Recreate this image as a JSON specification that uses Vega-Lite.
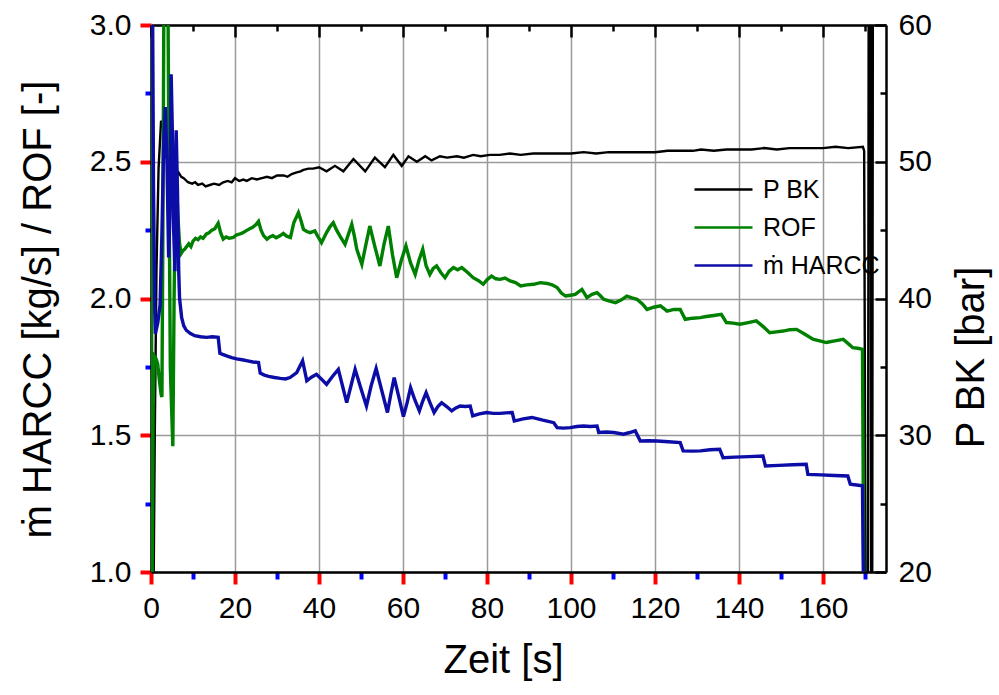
{
  "$schema": "https://vega.github.io/schema/vega-lite/v6.json",
  "width": 735,
  "height": 547,
  "autosize": {"type": "none"},
  "padding": {"left": 151, "top": 25, "right": 113, "bottom": 123},
  "background": "white",
  "config": {
    "view": {"stroke": null},
    "font": "Liberation Sans"
  },
  "data": {
    "values": [
      {"t":0,"s":"P BK","v":10},{"t":0.5,"s":"P BK","v":14},{"t":0.9,"s":"P BK","v":30},{"t":1.3,"s":"P BK","v":42},{"t":1.8,"s":"P BK","v":49.5},{"t":2.4,"s":"P BK","v":53.0},{"t":2.8,"s":"P BK","v":52.7},{"t":3.2,"s":"P BK","v":52.5},{"t":3.6,"s":"P BK","v":52.0},{"t":4.0,"s":"P BK","v":51.5},{"t":4.4,"s":"P BK","v":52.1},{"t":4.8,"s":"P BK","v":52.0},{"t":5.2,"s":"P BK","v":51.8},{"t":5.6,"s":"P BK","v":48.6},{"t":6.0,"s":"P BK","v":48.9},{"t":6.6,"s":"P BK","v":49.2},{"t":7.2,"s":"P BK","v":48.9},{"t":7.8,"s":"P BK","v":48.8},{"t":8.8,"s":"P BK","v":48.5},{"t":9.8,"s":"P BK","v":48.4},{"t":10.5,"s":"P BK","v":48.5},{"t":11.2,"s":"P BK","v":48.3},{"t":12.2,"s":"P BK","v":48.4},{"t":13.0,"s":"P BK","v":48.2},{"t":14.0,"s":"P BK","v":48.3},{"t":15.0,"s":"P BK","v":48.4},{"t":16.2,"s":"P BK","v":48.3},{"t":17.2,"s":"P BK","v":48.5},{"t":18.3,"s":"P BK","v":48.6},{"t":19.2,"s":"P BK","v":48.5},{"t":20.0,"s":"P BK","v":48.8},{"t":21.0,"s":"P BK","v":48.6},{"t":22.0,"s":"P BK","v":48.7},{"t":22.8,"s":"P BK","v":48.6},{"t":24.0,"s":"P BK","v":48.8},{"t":25.2,"s":"P BK","v":48.7},{"t":26.4,"s":"P BK","v":48.8},{"t":27.6,"s":"P BK","v":48.9},{"t":28.8,"s":"P BK","v":48.8},{"t":30.0,"s":"P BK","v":49.0},{"t":31.6,"s":"P BK","v":49.0},{"t":32.5,"s":"P BK","v":48.9},{"t":33.5,"s":"P BK","v":49.1},{"t":34.5,"s":"P BK","v":49.2},{"t":35.6,"s":"P BK","v":49.3},{"t":36.3,"s":"P BK","v":49.4},{"t":37.5,"s":"P BK","v":49.5},{"t":38.6,"s":"P BK","v":49.5},{"t":40.0,"s":"P BK","v":49.6},{"t":41.8,"s":"P BK","v":49.3},{"t":43.8,"s":"P BK","v":49.7},{"t":45.8,"s":"P BK","v":49.3},{"t":48.2,"s":"P BK","v":50.2},{"t":51.0,"s":"P BK","v":49.3},{"t":53.3,"s":"P BK","v":50.3},{"t":55.7,"s":"P BK","v":49.6},{"t":57.7,"s":"P BK","v":50.5},{"t":59.7,"s":"P BK","v":49.7},{"t":61.3,"s":"P BK","v":50.4},{"t":63.3,"s":"P BK","v":50.0},{"t":65.3,"s":"P BK","v":50.4},{"t":66.8,"s":"P BK","v":50.1},{"t":68.8,"s":"P BK","v":50.4},{"t":70.5,"s":"P BK","v":50.3},{"t":72.8,"s":"P BK","v":50.4},{"t":74.5,"s":"P BK","v":50.3},{"t":76.7,"s":"P BK","v":50.5},{"t":78.5,"s":"P BK","v":50.4},{"t":80.7,"s":"P BK","v":50.5},{"t":83.0,"s":"P BK","v":50.5},{"t":85.5,"s":"P BK","v":50.6},{"t":88,"s":"P BK","v":50.5},{"t":91,"s":"P BK","v":50.6},{"t":94,"s":"P BK","v":50.6},{"t":97,"s":"P BK","v":50.6},{"t":100,"s":"P BK","v":50.6},{"t":103,"s":"P BK","v":50.7},{"t":106,"s":"P BK","v":50.6},{"t":109,"s":"P BK","v":50.7},{"t":112,"s":"P BK","v":50.7},{"t":115,"s":"P BK","v":50.7},{"t":118,"s":"P BK","v":50.7},{"t":120,"s":"P BK","v":50.7},{"t":123,"s":"P BK","v":50.8},{"t":126,"s":"P BK","v":50.8},{"t":129,"s":"P BK","v":50.8},{"t":131,"s":"P BK","v":50.9},{"t":134,"s":"P BK","v":50.8},{"t":137,"s":"P BK","v":50.9},{"t":140,"s":"P BK","v":50.9},{"t":143,"s":"P BK","v":50.9},{"t":146,"s":"P BK","v":51.0},{"t":149,"s":"P BK","v":50.9},{"t":152,"s":"P BK","v":51.0},{"t":155,"s":"P BK","v":51.0},{"t":158,"s":"P BK","v":51.0},{"t":160,"s":"P BK","v":51.0},{"t":163,"s":"P BK","v":51.1},{"t":166,"s":"P BK","v":51.0},{"t":169.5,"s":"P BK","v":51.1},{"t":169.8,"s":"P BK","v":50.8},{"t":170.2,"s":"P BK","v":12},{"t":170.7,"s":"P BK","v":12},{"t":170.9,"s":"P BK","v":70},{"t":171.3,"s":"P BK","v":70},{"t":171.5,"s":"P BK","v":12},{"t":171.7,"s":"P BK","v":12},{"t":171.9,"s":"P BK","v":70},

      {"t":0,"s":"ROF","v":3.3},{"t":0.25,"s":"ROF","v":0.9},{"t":0.5,"s":"ROF","v":1.6},{"t":0.8,"s":"ROF","v":1.79},{"t":1.2,"s":"ROF","v":1.78},{"t":1.6,"s":"ROF","v":1.76},{"t":2.0,"s":"ROF","v":1.70},{"t":2.4,"s":"ROF","v":1.65},{"t":2.6,"s":"ROF","v":1.64},{"t":2.8,"s":"ROF","v":2.17},{"t":3.1,"s":"ROF","v":3.2},{"t":4.0,"s":"ROF","v":3.2},{"t":4.3,"s":"ROF","v":2.4},{"t":4.6,"s":"ROF","v":1.75},{"t":4.9,"s":"ROF","v":1.6},{"t":5.2,"s":"ROF","v":1.46},{"t":5.5,"s":"ROF","v":2.0},{"t":5.8,"s":"ROF","v":2.35},{"t":6.1,"s":"ROF","v":2.42},{"t":6.4,"s":"ROF","v":2.30},{"t":6.8,"s":"ROF","v":2.20},{"t":7.2,"s":"ROF","v":2.165},{"t":7.6,"s":"ROF","v":2.175},{"t":8.0,"s":"ROF","v":2.18},{"t":8.5,"s":"ROF","v":2.19},{"t":9.0,"s":"ROF","v":2.20},{"t":9.5,"s":"ROF","v":2.19},{"t":10.0,"s":"ROF","v":2.21},{"t":10.6,"s":"ROF","v":2.22},{"t":11.2,"s":"ROF","v":2.215},{"t":11.8,"s":"ROF","v":2.225},{"t":12.4,"s":"ROF","v":2.22},{"t":13.2,"s":"ROF","v":2.236},{"t":13.8,"s":"ROF","v":2.24},{"t":14.5,"s":"ROF","v":2.25},{"t":15.2,"s":"ROF","v":2.255},{"t":16.0,"s":"ROF","v":2.275},{"t":16.6,"s":"ROF","v":2.24},{"t":17.2,"s":"ROF","v":2.217},{"t":17.9,"s":"ROF","v":2.225},{"t":18.6,"s":"ROF","v":2.22},{"t":19.6,"s":"ROF","v":2.223},{"t":20.3,"s":"ROF","v":2.232},{"t":21.0,"s":"ROF","v":2.235},{"t":21.8,"s":"ROF","v":2.24},{"t":22.8,"s":"ROF","v":2.249},{"t":23.5,"s":"ROF","v":2.255},{"t":24.2,"s":"ROF","v":2.26},{"t":25.0,"s":"ROF","v":2.27},{"t":25.6,"s":"ROF","v":2.282},{"t":26.2,"s":"ROF","v":2.25},{"t":26.8,"s":"ROF","v":2.23},{"t":27.6,"s":"ROF","v":2.217},{"t":28.3,"s":"ROF","v":2.225},{"t":29.0,"s":"ROF","v":2.23},{"t":29.8,"s":"ROF","v":2.222},{"t":30.8,"s":"ROF","v":2.23},{"t":31.5,"s":"ROF","v":2.238},{"t":32.3,"s":"ROF","v":2.228},{"t":33.2,"s":"ROF","v":2.223},{"t":34.0,"s":"ROF","v":2.277},{"t":35.1,"s":"ROF","v":2.314},{"t":35.7,"s":"ROF","v":2.285},{"t":36.3,"s":"ROF","v":2.253},{"t":37.1,"s":"ROF","v":2.245},{"t":37.9,"s":"ROF","v":2.241},{"t":39.0,"s":"ROF","v":2.247},{"t":39.8,"s":"ROF","v":2.225},{"t":40.6,"s":"ROF","v":2.204},{"t":41.8,"s":"ROF","v":2.241},{"t":42.6,"s":"ROF","v":2.262},{"t":43.4,"s":"ROF","v":2.277},{"t":44.2,"s":"ROF","v":2.25},{"t":45.0,"s":"ROF","v":2.228},{"t":46.2,"s":"ROF","v":2.198},{"t":47.8,"s":"ROF","v":2.271},{"t":48.4,"s":"ROF","v":2.23},{"t":49.0,"s":"ROF","v":2.18},{"t":50.2,"s":"ROF","v":2.125},{"t":51.2,"s":"ROF","v":2.2},{"t":52.1,"s":"ROF","v":2.265},{"t":53.3,"s":"ROF","v":2.19},{"t":54.5,"s":"ROF","v":2.119},{"t":55.5,"s":"ROF","v":2.2},{"t":56.5,"s":"ROF","v":2.265},{"t":57.5,"s":"ROF","v":2.16},{"t":58.5,"s":"ROF","v":2.076},{"t":59.6,"s":"ROF","v":2.14},{"t":60.7,"s":"ROF","v":2.192},{"t":61.8,"s":"ROF","v":2.13},{"t":62.9,"s":"ROF","v":2.088},{"t":63.8,"s":"ROF","v":2.14},{"t":64.7,"s":"ROF","v":2.18},{"t":65.5,"s":"ROF","v":2.12},{"t":66.4,"s":"ROF","v":2.088},{"t":67.2,"s":"ROF","v":2.11},{"t":68.0,"s":"ROF","v":2.119},{"t":69.0,"s":"ROF","v":2.095},{"t":70.0,"s":"ROF","v":2.076},{"t":71.0,"s":"ROF","v":2.1},{"t":72.0,"s":"ROF","v":2.113},{"t":73.0,"s":"ROF","v":2.105},{"t":74.0,"s":"ROF","v":2.113},{"t":75.4,"s":"ROF","v":2.095},{"t":76.7,"s":"ROF","v":2.076},{"t":78.0,"s":"ROF","v":2.065},{"t":79.1,"s":"ROF","v":2.052},{"t":80.1,"s":"ROF","v":2.07},{"t":81.1,"s":"ROF","v":2.082},{"t":82.1,"s":"ROF","v":2.072},{"t":83.1,"s":"ROF","v":2.07},{"t":84.3,"s":"ROF","v":2.075},{"t":85.5,"s":"ROF","v":2.064},{"t":86.8,"s":"ROF","v":2.058},{"t":88.0,"s":"ROF","v":2.046},{"t":89.5,"s":"ROF","v":2.05},{"t":91.1,"s":"ROF","v":2.052},{"t":92.7,"s":"ROF","v":2.058},{"t":94.3,"s":"ROF","v":2.055},{"t":95.5,"s":"ROF","v":2.05},{"t":96.7,"s":"ROF","v":2.04},{"t":97.7,"s":"ROF","v":2.02},{"t":98.7,"s":"ROF","v":2.009},{"t":99.9,"s":"ROF","v":2.012},{"t":101.0,"s":"ROF","v":2.015},{"t":102.6,"s":"ROF","v":2.033},{"t":103.8,"s":"ROF","v":2.003},{"t":105.0,"s":"ROF","v":2.015},{"t":106.2,"s":"ROF","v":2.021},{"t":107.0,"s":"ROF","v":2.01},{"t":107.8,"s":"ROF","v":1.997},{"t":109.2,"s":"ROF","v":1.99},{"t":110.6,"s":"ROF","v":1.985},{"t":112.0,"s":"ROF","v":1.995},{"t":113.3,"s":"ROF","v":2.009},{"t":114.5,"s":"ROF","v":2.002},{"t":115.7,"s":"ROF","v":1.997},{"t":117.0,"s":"ROF","v":1.98},{"t":118.1,"s":"ROF","v":1.96},{"t":119.7,"s":"ROF","v":1.968},{"t":121.3,"s":"ROF","v":1.973},{"t":122.9,"s":"ROF","v":1.954},{"t":124.5,"s":"ROF","v":1.96},{"t":126.0,"s":"ROF","v":1.96},{"t":127.2,"s":"ROF","v":1.924},{"t":129.0,"s":"ROF","v":1.928},{"t":130.8,"s":"ROF","v":1.93},{"t":132.2,"s":"ROF","v":1.934},{"t":134.0,"s":"ROF","v":1.938},{"t":135.8,"s":"ROF","v":1.942},{"t":137.0,"s":"ROF","v":1.912},{"t":138.6,"s":"ROF","v":1.91},{"t":140.2,"s":"ROF","v":1.906},{"t":142.2,"s":"ROF","v":1.912},{"t":144.1,"s":"ROF","v":1.918},{"t":145.7,"s":"ROF","v":1.898},{"t":147.3,"s":"ROF","v":1.875},{"t":148.9,"s":"ROF","v":1.878},{"t":150.5,"s":"ROF","v":1.881},{"t":152.1,"s":"ROF","v":1.886},{"t":153.7,"s":"ROF","v":1.887},{"t":155.6,"s":"ROF","v":1.87},{"t":157.6,"s":"ROF","v":1.851},{"t":159.2,"s":"ROF","v":1.845},{"t":160.8,"s":"ROF","v":1.839},{"t":162.8,"s":"ROF","v":1.845},{"t":164.8,"s":"ROF","v":1.851},{"t":166.0,"s":"ROF","v":1.835},{"t":167.1,"s":"ROF","v":1.82},{"t":168.3,"s":"ROF","v":1.818},{"t":169.4,"s":"ROF","v":1.814},{"t":169.7,"s":"ROF","v":1.0},{"t":169.9,"s":"ROF","v":0.8},

      {"t":0,"s":"ṁ HARCC","v":3.3},{"t":0.3,"s":"ṁ HARCC","v":3.3},{"t":0.6,"s":"ṁ HARCC","v":2.4},{"t":0.9,"s":"ṁ HARCC","v":1.95},{"t":1.04,"s":"ṁ HARCC","v":1.871},{"t":1.6,"s":"ṁ HARCC","v":1.91},{"t":2.16,"s":"ṁ HARCC","v":1.975},{"t":2.6,"s":"ṁ HARCC","v":2.236},{"t":3.0,"s":"ṁ HARCC","v":2.55},{"t":3.4,"s":"ṁ HARCC","v":2.7},{"t":3.8,"s":"ṁ HARCC","v":2.5},{"t":4.2,"s":"ṁ HARCC","v":2.15},{"t":4.5,"s":"ṁ HARCC","v":2.3},{"t":4.8,"s":"ṁ HARCC","v":2.82},{"t":5.1,"s":"ṁ HARCC","v":2.6},{"t":5.4,"s":"ṁ HARCC","v":2.25},{"t":5.7,"s":"ṁ HARCC","v":2.1},{"t":6.0,"s":"ṁ HARCC","v":2.615},{"t":6.3,"s":"ṁ HARCC","v":2.4},{"t":6.6,"s":"ṁ HARCC","v":2.1},{"t":6.8,"s":"ṁ HARCC","v":2.0},{"t":7.3,"s":"ṁ HARCC","v":1.93},{"t":7.8,"s":"ṁ HARCC","v":1.90},{"t":8.4,"s":"ṁ HARCC","v":1.884},{"t":9.4,"s":"ṁ HARCC","v":1.872},{"t":10.4,"s":"ṁ HARCC","v":1.864},{"t":11.8,"s":"ṁ HARCC","v":1.86},{"t":13.2,"s":"ṁ HARCC","v":1.858},{"t":14.6,"s":"ṁ HARCC","v":1.86},{"t":16.0,"s":"ṁ HARCC","v":1.858},{"t":16.4,"s":"ṁ HARCC","v":1.80},{"t":17.2,"s":"ṁ HARCC","v":1.795},{"t":18.0,"s":"ṁ HARCC","v":1.79},{"t":19.2,"s":"ṁ HARCC","v":1.784},{"t":20.4,"s":"ṁ HARCC","v":1.779},{"t":21.7,"s":"ṁ HARCC","v":1.776},{"t":23.0,"s":"ṁ HARCC","v":1.772},{"t":24.3,"s":"ṁ HARCC","v":1.768},{"t":25.6,"s":"ṁ HARCC","v":1.766},{"t":26.0,"s":"ṁ HARCC","v":1.727},{"t":27.0,"s":"ṁ HARCC","v":1.72},{"t":28.0,"s":"ṁ HARCC","v":1.715},{"t":29.4,"s":"ṁ HARCC","v":1.711},{"t":30.8,"s":"ṁ HARCC","v":1.708},{"t":32.0,"s":"ṁ HARCC","v":1.706},{"t":33.1,"s":"ṁ HARCC","v":1.711},{"t":34.7,"s":"ṁ HARCC","v":1.729},{"t":36.1,"s":"ṁ HARCC","v":1.772},{"t":37.1,"s":"ṁ HARCC","v":1.699},{"t":38.2,"s":"ṁ HARCC","v":1.712},{"t":39.4,"s":"ṁ HARCC","v":1.723},{"t":40.6,"s":"ṁ HARCC","v":1.705},{"t":41.8,"s":"ṁ HARCC","v":1.686},{"t":43.2,"s":"ṁ HARCC","v":1.715},{"t":44.6,"s":"ṁ HARCC","v":1.741},{"t":45.6,"s":"ṁ HARCC","v":1.68},{"t":46.6,"s":"ṁ HARCC","v":1.619},{"t":47.6,"s":"ṁ HARCC","v":1.68},{"t":48.6,"s":"ṁ HARCC","v":1.741},{"t":50.0,"s":"ṁ HARCC","v":1.67},{"t":51.3,"s":"ṁ HARCC","v":1.607},{"t":52.4,"s":"ṁ HARCC","v":1.68},{"t":53.6,"s":"ṁ HARCC","v":1.744},{"t":55.0,"s":"ṁ HARCC","v":1.66},{"t":56.3,"s":"ṁ HARCC","v":1.583},{"t":57.1,"s":"ṁ HARCC","v":1.65},{"t":57.9,"s":"ṁ HARCC","v":1.711},{"t":59.0,"s":"ṁ HARCC","v":1.64},{"t":60.1,"s":"ṁ HARCC","v":1.568},{"t":61.0,"s":"ṁ HARCC","v":1.62},{"t":61.8,"s":"ṁ HARCC","v":1.674},{"t":62.8,"s":"ṁ HARCC","v":1.63},{"t":63.9,"s":"ṁ HARCC","v":1.589},{"t":64.7,"s":"ṁ HARCC","v":1.625},{"t":65.5,"s":"ṁ HARCC","v":1.656},{"t":66.4,"s":"ṁ HARCC","v":1.62},{"t":67.4,"s":"ṁ HARCC","v":1.583},{"t":68.3,"s":"ṁ HARCC","v":1.605},{"t":69.2,"s":"ṁ HARCC","v":1.619},{"t":70.4,"s":"ṁ HARCC","v":1.605},{"t":71.6,"s":"ṁ HARCC","v":1.589},{"t":72.6,"s":"ṁ HARCC","v":1.6},{"t":73.6,"s":"ṁ HARCC","v":1.607},{"t":74.8,"s":"ṁ HARCC","v":1.605},{"t":76.0,"s":"ṁ HARCC","v":1.607},{"t":76.6,"s":"ṁ HARCC","v":1.571},{"t":78.2,"s":"ṁ HARCC","v":1.578},{"t":79.9,"s":"ṁ HARCC","v":1.583},{"t":81.5,"s":"ṁ HARCC","v":1.58},{"t":83.1,"s":"ṁ HARCC","v":1.58},{"t":84.5,"s":"ṁ HARCC","v":1.582},{"t":86.0,"s":"ṁ HARCC","v":1.583},{"t":86.5,"s":"ṁ HARCC","v":1.552},{"t":88.6,"s":"ṁ HARCC","v":1.56},{"t":90.7,"s":"ṁ HARCC","v":1.565},{"t":93.3,"s":"ṁ HARCC","v":1.555},{"t":95.9,"s":"ṁ HARCC","v":1.546},{"t":96.7,"s":"ṁ HARCC","v":1.528},{"t":98.2,"s":"ṁ HARCC","v":1.526},{"t":99.8,"s":"ṁ HARCC","v":1.528},{"t":101.4,"s":"ṁ HARCC","v":1.532},{"t":103.0,"s":"ṁ HARCC","v":1.534},{"t":104.6,"s":"ṁ HARCC","v":1.532},{"t":106.2,"s":"ṁ HARCC","v":1.534},{"t":106.6,"s":"ṁ HARCC","v":1.51},{"t":108.4,"s":"ṁ HARCC","v":1.512},{"t":110.2,"s":"ṁ HARCC","v":1.51},{"t":112.5,"s":"ṁ HARCC","v":1.504},{"t":114.0,"s":"ṁ HARCC","v":1.51},{"t":115.3,"s":"ṁ HARCC","v":1.516},{"t":116.5,"s":"ṁ HARCC","v":1.479},{"t":118.5,"s":"ṁ HARCC","v":1.48},{"t":120.5,"s":"ṁ HARCC","v":1.479},{"t":123.2,"s":"ṁ HARCC","v":1.476},{"t":126.0,"s":"ṁ HARCC","v":1.473},{"t":126.7,"s":"ṁ HARCC","v":1.443},{"t":128.8,"s":"ṁ HARCC","v":1.442},{"t":130.8,"s":"ṁ HARCC","v":1.443},{"t":133.1,"s":"ṁ HARCC","v":1.447},{"t":135.4,"s":"ṁ HARCC","v":1.449},{"t":136.2,"s":"ṁ HARCC","v":1.418},{"t":139.0,"s":"ṁ HARCC","v":1.42},{"t":142.3,"s":"ṁ HARCC","v":1.422},{"t":145.7,"s":"ṁ HARCC","v":1.424},{"t":146.3,"s":"ṁ HARCC","v":1.388},{"t":149.5,"s":"ṁ HARCC","v":1.39},{"t":152.8,"s":"ṁ HARCC","v":1.392},{"t":156.0,"s":"ṁ HARCC","v":1.394},{"t":156.4,"s":"ṁ HARCC","v":1.357},{"t":159.5,"s":"ṁ HARCC","v":1.355},{"t":162.7,"s":"ṁ HARCC","v":1.353},{"t":165.9,"s":"ṁ HARCC","v":1.351},{"t":166.5,"s":"ṁ HARCC","v":1.321},{"t":168.0,"s":"ṁ HARCC","v":1.318},{"t":169.4,"s":"ṁ HARCC","v":1.315},{"t":169.6,"s":"ṁ HARCC","v":1.0},{"t":169.8,"s":"ṁ HARCC","v":0.8}
    ]
  },
  "layer": [
    {
      "transform": [{"filter": "datum.s === 'ROF'"}],
      "mark": {"type": "line", "opacity": 0},
      "encoding": {
        "x": {
          "field": "t", "type": "quantitative",
          "scale": {"domain": [0, 175], "nice": false, "zero": false},
          "axis": {
            "orient": "bottom",
            "values": [10,30,50,70,90,110,130,150,170],
            "labels": false, "title": null, "grid": false, "domain": false,
            "tickColor": "blue", "tickWidth": 4, "tickSize": 7
          }
        },
        "y": {
          "field": "v", "type": "quantitative",
          "scale": {"domain": [1, 3], "nice": false, "zero": false},
          "axis": {
            "orient": "left",
            "values": [1.25,1.75,2.25,2.75],
            "labels": false, "title": null, "grid": false, "domain": false,
            "tickColor": "blue", "tickWidth": 4, "tickSize": 6
          }
        }
      }
    },
    {
      "transform": [{"filter": "datum.s === 'P BK'"}],
      "mark": {"type": "line", "opacity": 0},
      "encoding": {
        "x": {
          "field": "t", "type": "quantitative",
          "scale": {"domain": [0, 175], "nice": false, "zero": false},
          "axis": {
            "orient": "top",
            "values": [10,30,50,70,90,110,130,150,170],
            "labels": false, "title": null, "grid": false, "domain": false,
            "tickColor": "#000000", "tickWidth": 2.5, "tickSize": -6
          }
        },
        "y": {
          "field": "v", "type": "quantitative",
          "scale": {"domain": [20, 60], "nice": false, "zero": false},
          "axis": {
            "orient": "right",
            "values": [25,35,45,55],
            "labels": false, "title": null, "grid": false, "domain": false,
            "tickColor": "#000000", "tickWidth": 2.5, "tickSize": -6
          }
        }
      }
    },
    {
      "transform": [{"filter": "datum.s === 'P BK'"}],
      "mark": {"type": "line", "clip": true, "strokeWidth": 2.4},
      "encoding": {
        "x": {
          "field": "t", "type": "quantitative",
          "scale": {"domain": [0, 175], "nice": false, "zero": false},
          "axis": {
            "orient": "top",
            "values": [0,20,40,60,80,100,120,140,160],
            "labels": false,
            "title": null,
            "grid": false,
            "domainColor": "#000000", "domainWidth": 2.5,
            "tickColor": "#000000", "tickWidth": 2.5, "tickSize": -12
          }
        },
        "y": {
          "field": "v", "type": "quantitative",
          "scale": {"domain": [20, 60], "nice": false, "zero": false},
          "axis": {
            "orient": "right",
            "values": [20,30,40,50,60],
            "grid": false,
            "domainColor": "#000000", "domainWidth": 2.5,
            "tickColor": "#000000", "tickWidth": 2.5, "tickSize": -11,
            "labelPadding": 23,
            "labelFont": "Liberation Sans", "labelFontSize": 30, "labelColor": "#000000",
            "title": "P BK [bar]",
            "titleFont": "Liberation Sans", "titleFontSize": 40, "titleFontWeight": "normal", "titleColor": "#000000",
            "titleAngle": 270,
            "titleAlign": "center",
            "titleBaseline": "alphabetic",
            "titleX": 97,
            "titleY": 332
          }
        },
        "color": {
          "field": "s", "type": "nominal",
          "scale": {"domain": ["P BK", "ROF", "ṁ HARCC"], "range": ["#000000", "#008000", "#0c0ca6"]},
          "legend": {
            "orient": "none",
            "legendX": 579,
            "legendY": 152,
            "title": null,
            "symbolType": "M-4.8,0H1",
            "symbolSize": 400,
            "symbolStrokeWidth": 2.5,
            "labelFontSize": 25,
            "labelFont": "Liberation Sans",
            "labelColor": "#000000",
            "labelOffset": 8,
            "rowPadding": 12,
            "padding": 0
          }
        }
      }
    },
    {
      "transform": [{"filter": "datum.s !== 'P BK'"}],
      "mark": {"type": "line", "clip": true, "strokeWidth": 3.4},
      "encoding": {
        "x": {
          "field": "t", "type": "quantitative",
          "scale": {"domain": [0, 175], "nice": false, "zero": false},
          "axis": {
            "orient": "bottom",
            "values": [0,20,40,60,80,100,120,140,160],
            "grid": true, "gridColor": "#9a9a9a", "gridWidth": 1.5,
            "domainColor": "#000000", "domainWidth": 2.5,
            "tickColor": "red", "tickWidth": 4, "tickSize": 12,
            "labelPadding": 9, "labelFlush": false,
            "labelFont": "Liberation Sans", "labelFontSize": 30, "labelColor": "#000000",
            "title": "Zeit [s]",
            "titleFont": "Liberation Sans", "titleFontSize": 40, "titleFontWeight": "normal", "titleColor": "#000000",
            "titleAlign": "center",
            "titleBaseline": "alphabetic",
            "titleX": 352,
            "titleY": 100
          }
        },
        "y": {
          "field": "v", "type": "quantitative",
          "scale": {"domain": [1, 3], "nice": false, "zero": false},
          "axis": {
            "orient": "left",
            "values": [1,1.5,2,2.5,3],
            "format": ".1f",
            "grid": true, "gridColor": "#9a9a9a", "gridWidth": 1.5,
            "domainColor": "#000000", "domainWidth": 2.5,
            "tickColor": "red", "tickWidth": 4, "tickSize": 11,
            "labelPadding": 9,
            "labelFont": "Liberation Sans", "labelFontSize": 30, "labelColor": "#000000",
            "title": "ṁ HARCC [kg/s] / ROF [-]",
            "titleFont": "Liberation Sans", "titleFontSize": 40, "titleFontWeight": "normal", "titleColor": "#000000",
            "titleAngle": 270,
            "titleAlign": "center",
            "titleBaseline": "alphabetic",
            "titleX": -101,
            "titleY": 284
          }
        },
        "color": {"field": "s", "type": "nominal"}
      }
    }
  ],
  "resolve": {"scale": {"y": "independent"}, "axis": {"x": "independent", "y": "independent"}}
}
